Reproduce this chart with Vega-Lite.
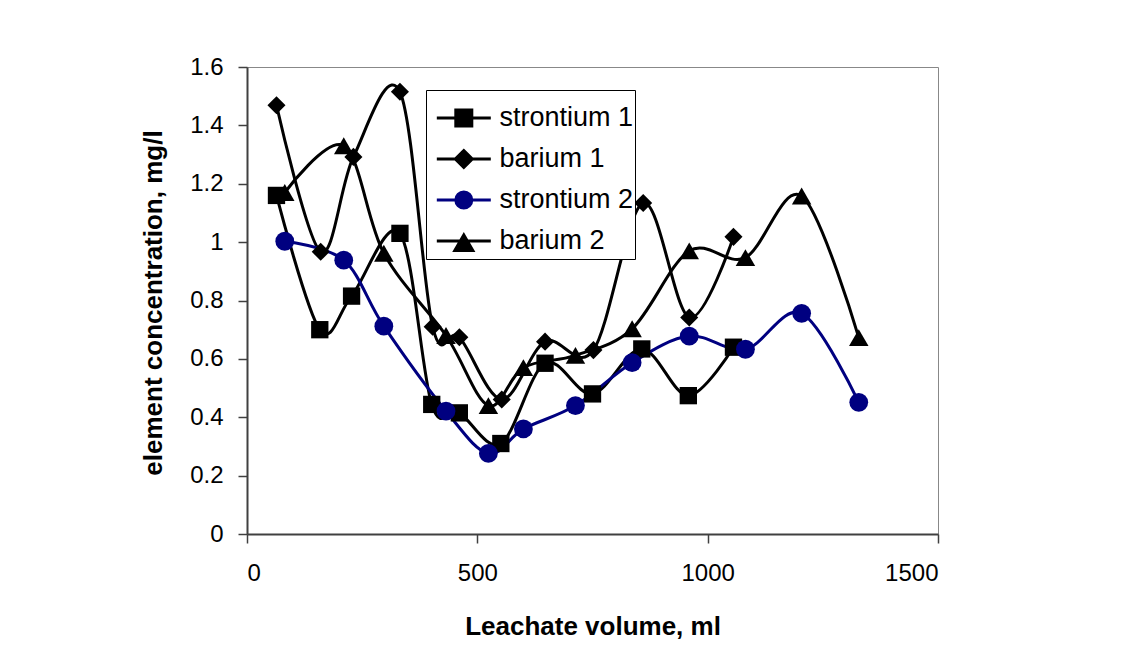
{
  "$schema": "https://vega.github.io/schema/vega-lite/v6.json",
  "width": 691,
  "height": 467,
  "autosize": {"type": "none"},
  "padding": {"left": 247, "top": 67, "right": 195, "bottom": 112},
  "background": "white",
  "config": {
    "view": {"stroke": "#888888", "strokeWidth": 1},
    "font": "Liberation Sans",
    "axis": {
      "grid": false,
      "domainColor": "#404040",
      "domainWidth": 2,
      "tickColor": "#404040",
      "tickWidth": 1.5,
      "tickSize": 9,
      "labelFont": "Liberation Sans",
      "labelFontSize": 24,
      "labelColor": "#000000",
      "titleFont": "Liberation Sans",
      "titleFontSize": 26,
      "titleFontWeight": "bold",
      "titleColor": "#000000"
    },
    "legend": {
      "labelFont": "Liberation Sans",
      "labelFontSize": 27,
      "labelColor": "#000000",
      "symbolSize": 2440,
      "symbolStrokeWidth": 3,
      "strokeColor": "#000000",
      "fillColor": "#ffffff",
      "padding": 1.5,
      "rowPadding": 0,
      "labelOffset": 19
    }
  },
  "data": {
    "values": [
      {"series": "strontium 1", "x": 64, "y": 1.16},
      {"series": "strontium 1", "x": 158, "y": 0.70},
      {"series": "strontium 1", "x": 227, "y": 0.815},
      {"series": "strontium 1", "x": 332, "y": 1.03},
      {"series": "strontium 1", "x": 401, "y": 0.444},
      {"series": "strontium 1", "x": 461, "y": 0.415},
      {"series": "strontium 1", "x": 551, "y": 0.31},
      {"series": "strontium 1", "x": 647, "y": 0.585},
      {"series": "strontium 1", "x": 750, "y": 0.48},
      {"series": "strontium 1", "x": 857, "y": 0.634},
      {"series": "strontium 1", "x": 958, "y": 0.474},
      {"series": "strontium 1", "x": 1056, "y": 0.64},
      {"series": "barium 1", "x": 64, "y": 1.469},
      {"series": "barium 1", "x": 160, "y": 0.967},
      {"series": "barium 1", "x": 231, "y": 1.292},
      {"series": "barium 1", "x": 332, "y": 1.515},
      {"series": "barium 1", "x": 403, "y": 0.71},
      {"series": "barium 1", "x": 461, "y": 0.674},
      {"series": "barium 1", "x": 553, "y": 0.461},
      {"series": "barium 1", "x": 647, "y": 0.659},
      {"series": "barium 1", "x": 752, "y": 0.63},
      {"series": "barium 1", "x": 860, "y": 1.134},
      {"series": "barium 1", "x": 960, "y": 0.742},
      {"series": "barium 1", "x": 1056, "y": 1.018},
      {"series": "strontium 2", "x": 82, "y": 1.003},
      {"series": "strontium 2", "x": 210, "y": 0.938},
      {"series": "strontium 2", "x": 297, "y": 0.712},
      {"series": "strontium 2", "x": 432, "y": 0.421},
      {"series": "strontium 2", "x": 524, "y": 0.276},
      {"series": "strontium 2", "x": 600, "y": 0.36},
      {"series": "strontium 2", "x": 713, "y": 0.44},
      {"series": "strontium 2", "x": 836, "y": 0.587},
      {"series": "strontium 2", "x": 960, "y": 0.678},
      {"series": "strontium 2", "x": 1082, "y": 0.633},
      {"series": "strontium 2", "x": 1204, "y": 0.756},
      {"series": "strontium 2", "x": 1328, "y": 0.451},
      {"series": "barium 2", "x": 82, "y": 1.17},
      {"series": "barium 2", "x": 210, "y": 1.33},
      {"series": "barium 2", "x": 297, "y": 0.962},
      {"series": "barium 2", "x": 432, "y": 0.68},
      {"series": "barium 2", "x": 524, "y": 0.44},
      {"series": "barium 2", "x": 600, "y": 0.57},
      {"series": "barium 2", "x": 713, "y": 0.612},
      {"series": "barium 2", "x": 836, "y": 0.703},
      {"series": "barium 2", "x": 960, "y": 0.97},
      {"series": "barium 2", "x": 1082, "y": 0.947},
      {"series": "barium 2", "x": 1204, "y": 1.158},
      {"series": "barium 2", "x": 1328, "y": 0.673}
    ]
  },
  "encoding": {
    "x": {
      "field": "x",
      "type": "quantitative",
      "scale": {"domain": [0, 1500], "nice": false, "zero": false},
      "axis": {
        "values": [0, 500, 1000, 1500],
        "format": "d",
        "labelPadding": 18,
        "title": "Leachate volume, ml",
        "titleY": 100,
        "titleBaseline": "alphabetic"
      }
    },
    "y": {
      "field": "y",
      "type": "quantitative",
      "scale": {"domain": [0, 1.6], "nice": false},
      "axis": {
        "values": [0, 0.2, 0.4, 0.6, 0.8, 1, 1.2, 1.4, 1.6],
        "format": "~g",
        "labelPadding": 15,
        "title": "element concentration, mg/l",
        "titleX": -86,
        "titleY": 235.5,
        "titleAlign": "center",
        "titleBaseline": "alphabetic"
      }
    }
  },
  "layer": [
    {
      "mark": {"type": "line", "interpolate": "cardinal", "strokeWidth": 3},
      "encoding": {
        "color": {
          "field": "series",
          "type": "nominal",
          "scale": {"domain": ["strontium 1", "barium 1", "strontium 2", "barium 2"], "range": ["#000000", "#000000", "#000080", "#000000"]},
          "legend": null
        }
      }
    },
    {
      "mark": {"type": "point", "filled": true, "opacity": 1},
      "encoding": {
        "color": {
          "field": "series",
          "type": "nominal",
          "scale": {"domain": ["strontium 1", "barium 1", "strontium 2", "barium 2"], "range": ["#000000", "#000000", "#000080", "#000000"]},
          "legend": null
        },
        "shape": {
          "field": "series",
          "type": "nominal",
          "scale": {"domain": ["strontium 1", "barium 1", "strontium 2", "barium 2"], "range": ["square", "diamond", "circle", "triangle-up"]},
          "legend": null
        },
        "size": {
          "field": "series",
          "type": "nominal",
          "scale": {"domain": ["strontium 1", "barium 1", "strontium 2", "barium 2"], "range": [300, 380, 330, 420]},
          "legend": null
        }
      }
    },
    {
      "transform": [{"filter": "datum.x < -100"}],
      "mark": {"type": "point", "filled": true, "opacity": 1, "strokeWidth": 3},
      "encoding": {
        "fill": {
          "field": "series",
          "type": "nominal",
          "scale": {"domain": ["strontium 1", "barium 1", "strontium 2", "barium 2"], "range": ["#000000", "#000000", "#000080", "#000000"]},
          "legend": {"orient": "none", "legendX": 179, "legendY": 23, "title": null}
        },
        "stroke": {
          "field": "series",
          "type": "nominal",
          "scale": {"domain": ["strontium 1", "barium 1", "strontium 2", "barium 2"], "range": ["#000000", "#000000", "#000080", "#000000"]},
          "legend": {"orient": "none", "legendX": 179, "legendY": 23, "title": null}
        },
        "shape": {
          "field": "series",
          "type": "nominal",
          "scale": {
            "domain": ["strontium 1", "barium 1", "strontium 2", "barium 2"],
            "range": [
              "M-0.696,0H1.49M0.073,-0.324H0.721V0.324H0.073Z",
              "M-0.696,0H1.49M0.397,-0.344L0.741,0L0.397,0.344L0.053,0Z",
              "M-0.696,0H1.49M0.073,0A0.324,0.324,0,1,1,0.721,0A0.324,0.324,0,1,1,0.073,0Z",
              "M-0.696,0H1.49M0.397,-0.243L0.761,0.385L0.033,0.385Z"
            ]
          },
          "legend": {"orient": "none", "legendX": 179, "legendY": 23, "title": null}
        }
      }
    }
  ],
  "resolve": {
    "scale": {"color": "independent", "shape": "independent", "size": "independent", "fill": "independent", "stroke": "independent"}
  }
}
